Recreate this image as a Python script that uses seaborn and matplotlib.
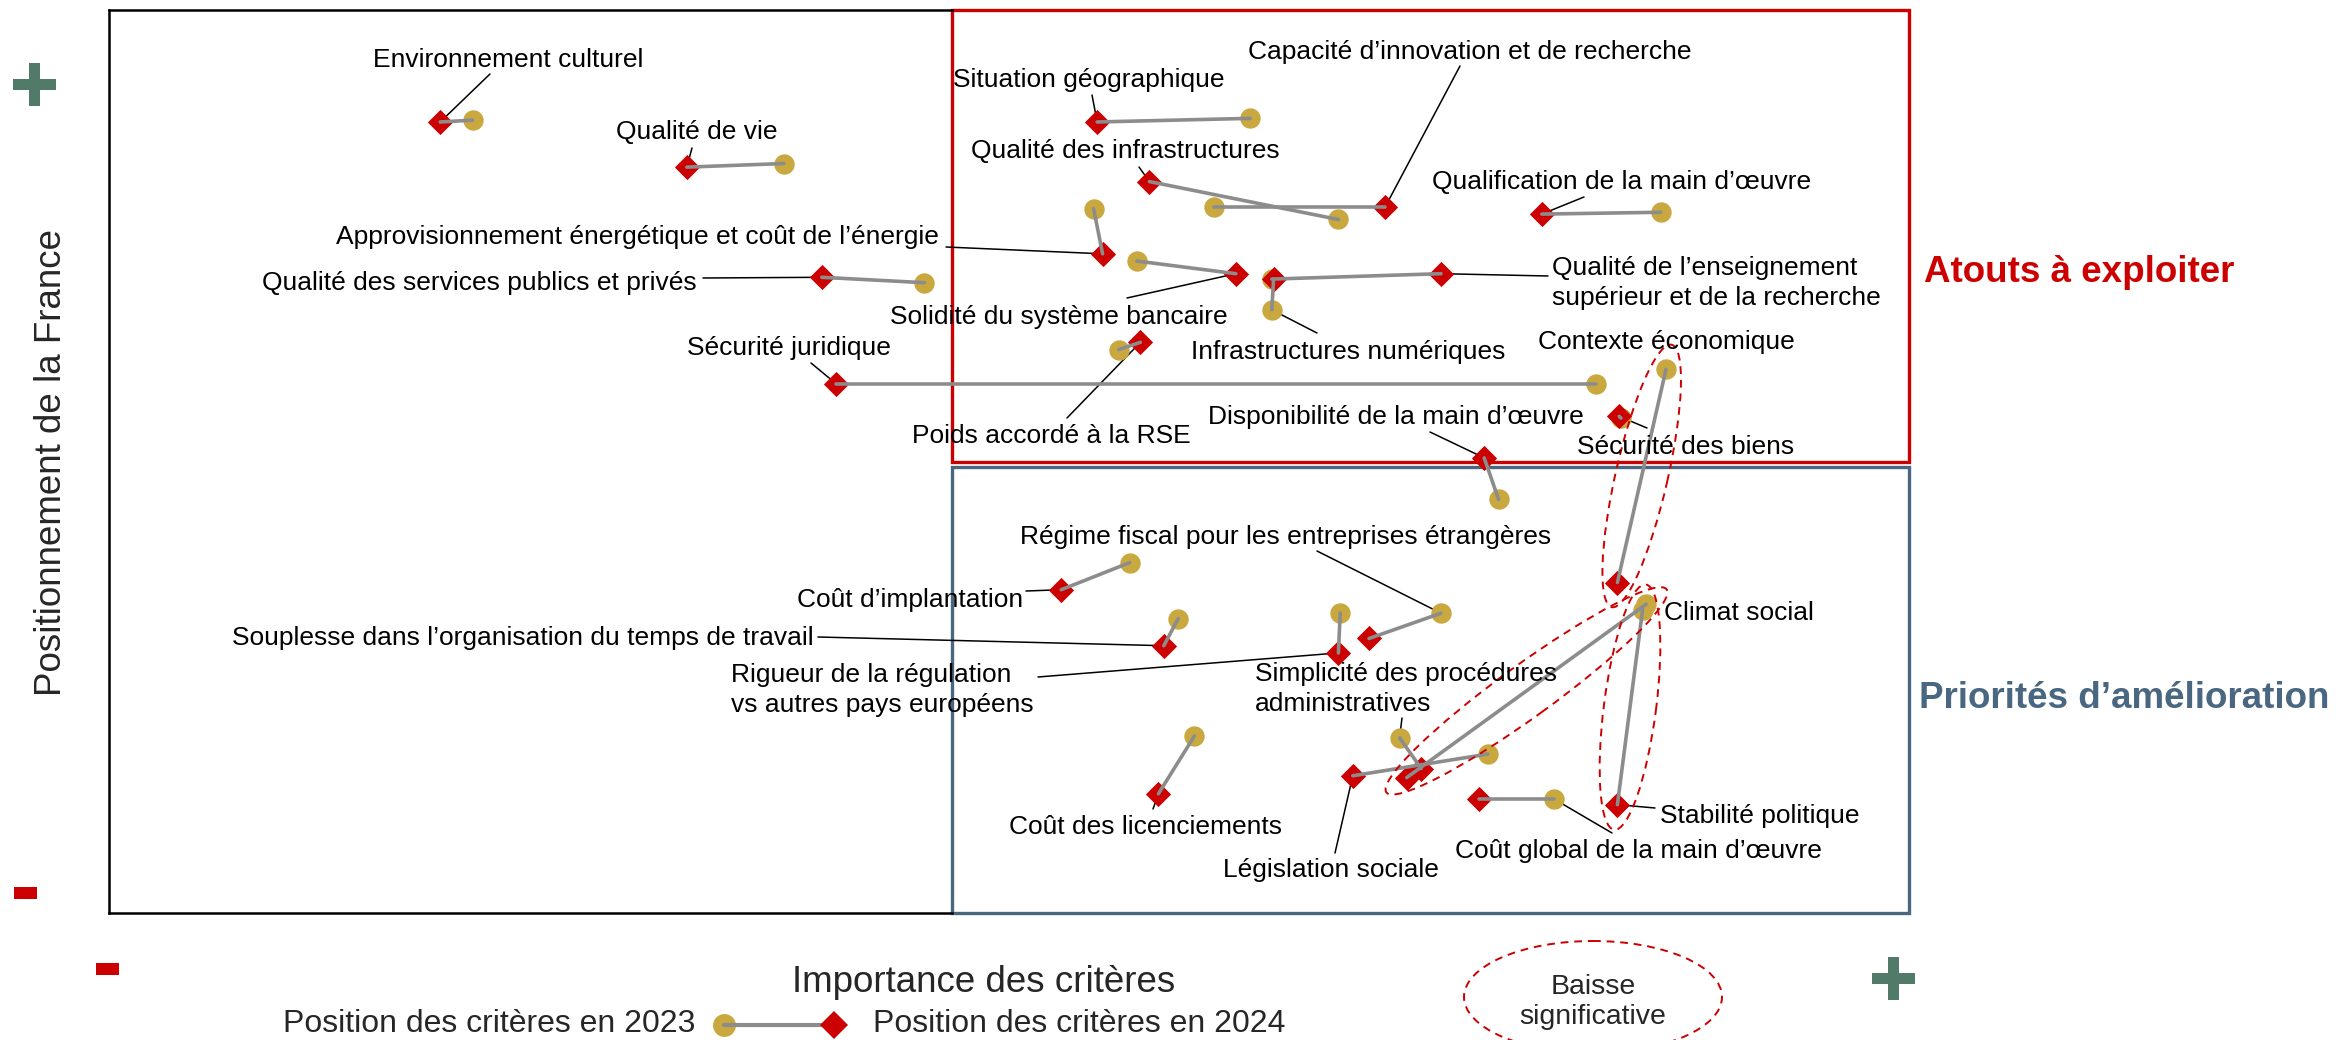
import math

import pandas as pd
import seaborn as sns
import matplotlib.pyplot as plt
from matplotlib.patches import Ellipse, Rectangle


CRITERES = [
    "Environnement culturel",
    "Qualité de vie",
    "Situation géographique",
    "Capacité d’innovation et de recherche",
    "Qualité des infrastructures",
    "Qualification de la main d’œuvre",
    "Approvisionnement énergétique et coût de l’énergie",
    "Qualité des services publics et privés",
    "Solidité du système bancaire",
    "Qualité de l’enseignement supérieur et de la recherche",
    "Infrastructures numériques",
    "Sécurité juridique",
    "Poids accordé à la RSE",
    "Contexte économique",
    "Sécurité des biens",
    "Disponibilité de la main d’œuvre",
    "Coût d’implantation",
    "Souplesse dans l’organisation du temps de travail",
    "Régime fiscal pour les entreprises étrangères",
    "Rigueur de la régulation vs autres pays européens",
    "Climat social",
    "Simplicité des procédures administratives",
    "Législation sociale",
    "Coût des licenciements",
    "Coût global de la main d’œuvre",
    "Stabilité politique",
]

# importance (x) / positionnement (y), 2023 et 2024
IMP_2023 = [20.2, 37.5, 63.4, 61.4, 68.3, 86.2, 54.7, 45.3, 57.1, 64.6, 64.6, 82.6, 56.1,
            86.5, 84.0, 77.2, 56.7, 59.4, 74.0, 68.4, 85.4, 71.7, 76.6, 60.3, 80.3, 85.2]
POS_2023 = [43.9, 41.5, 44.0, 39.1, 38.4, 38.8, 39.0, 34.9, 36.1, 35.1, 33.4, 29.3, 31.2,
            30.1, 27.4, 22.9, 19.4, 16.3, 16.6, 16.6, 17.1, 9.7, 8.8, 9.8, 6.3, 16.8]
IMP_2024 = [18.4, 32.1, 54.9, 70.9, 57.8, 79.6, 55.2, 39.6, 62.6, 74.0, 64.7, 40.4, 57.3,
            83.8, 83.9, 76.4, 52.9, 58.6, 70.0, 68.3, 72.1, 72.9, 69.1, 58.3, 76.1, 83.8]
POS_2024 = [43.8, 41.3, 43.8, 39.1, 40.5, 38.7, 36.5, 35.2, 35.4, 35.4, 35.1, 29.3, 31.6,
            18.3, 27.5, 25.2, 17.9, 14.8, 15.2, 14.4, 7.5, 8.0, 7.6, 6.6, 6.3, 6.0]

BAISSE_SIGNIFICATIVE = ["Contexte économique", "Climat social", "Stabilité politique"]

GOLD = "#C8A83F"
RED = "#CC0000"
GRAY = "#8C8C8C"
GREEN = "#527A68"
BLUE = "#4A6782"

W, H = 2339, 1040
AX_L, AX_R, AX_T, AX_B = 109, 1909, 10, 913
XMAX, YMAX = 100.0, 50.0

# label layout in image pixels: text x, text y, ha, leader start (or None), leader target year
LABELS = {
    "Environnement culturel": (508, 60, "center", (490, 74), 2024),
    "Qualité de vie": (697, 132, "center", (692, 148), 2024),
    "Situation géographique": (1089, 80, "center", (1092, 95), 2024),
    "Capacité d’innovation et de recherche": (1470, 52, "center", (1460, 66), 2024),
    "Qualité des infrastructures": (1125, 151, "center", (1139, 167), 2024),
    "Qualification de la main d’œuvre": (1622, 182, "center", (1584, 197), 2024),
    "Approvisionnement énergétique et coût de l’énergie": (939, 237, "right", (946, 247), 2024),
    "Qualité des services publics et privés": (697, 283, "right", (703, 278), 2024),
    "Solidité du système bancaire": (1228, 317, "right", (1127, 298), 2024),
    "Qualité de l’enseignement supérieur et de la recherche": (1552, 283, "left", (1548, 276), 2024),
    "Infrastructures numériques": (1348, 352, "center", (1317, 333), 2023),
    "Sécurité juridique": (789, 348, "center", (811, 363), 2024),
    "Poids accordé à la RSE": (1051, 436, "center", (1067, 418), 2024),
    "Contexte économique": (1666, 342, "center", None, 2023),
    "Sécurité des biens": (1686, 447, "center", (1647, 428), 2024),
    "Disponibilité de la main d’œuvre": (1396, 417, "center", (1430, 432), 2024),
    "Coût d’implantation": (1023, 600, "right", (1026, 591), 2024),
    "Souplesse dans l’organisation du temps de travail": (814, 638, "right", (818, 637), 2024),
    "Régime fiscal pour les entreprises étrangères": (1286, 537, "center", (1317, 551), 2023),
    "Rigueur de la régulation vs autres pays européens": (731, 690, "left", (1038, 677), 2024),
    "Climat social": (1664, 613, "left", None, 2023),
    "Simplicité des procédures administratives": (1255, 689, "left", (1402, 718), 2023),
    "Législation sociale": (1331, 870, "center", (1335, 853), 2024),
    "Coût des licenciements": (1146, 827, "center", (1153, 809), 2024),
    "Coût global de la main d’œuvre": (1638, 851, "center", (1612, 833), 2023),
    "Stabilité politique": (1660, 816, "left", (1655, 808), 2024),
}
LABEL_TEXT = {
    "Qualité de l’enseignement supérieur et de la recherche": "Qualité de l’enseignement\nsupérieur et de la recherche",
    "Rigueur de la régulation vs autres pays européens": "Rigueur de la régulation\nvs autres pays européens",
    "Simplicité des procédures administratives": "Simplicité des procédures\nadministratives",
}


def px_to_data(x, y):
    return ((x - AX_L) / (AX_R - AX_L) * XMAX, (AX_B - y) / (AX_B - AX_T) * YMAX)


def build_segments() -> pd.DataFrame:
    rows = []
    for i, name in enumerate(CRITERES):
        rows.append({"critere": name, "annee": 2023, "imp": IMP_2023[i], "pos": POS_2023[i]})
        rows.append({"critere": name, "annee": 2024, "imp": IMP_2024[i], "pos": POS_2024[i]})
    return pd.DataFrame(rows)


def main() -> None:
    sns.set_theme(style="white")
    plt.rcParams["font.family"] = ["Liberation Sans", "DejaVu Sans"]

    fig = plt.figure(figsize=(W / 100, H / 100), dpi=100)
    ax = fig.add_axes([AX_L / W, 1 - AX_B / H, (AX_R - AX_L) / W, (AX_B - AX_T) / H])
    ax.set_xlim(0, XMAX)
    ax.set_ylim(0, YMAX)

    seg = build_segments()

    # quadrant boxes
    qx, _ = px_to_data(952, 0)
    _, red_bottom = px_to_data(0, 462)
    _, blue_top = px_to_data(0, 467)
    ax.add_patch(Rectangle((qx, red_bottom), XMAX - qx, YMAX - red_bottom, fill=False,
                           ec=RED, lw=2.4, zorder=1.5, clip_on=False))
    ax.add_patch(Rectangle((qx, 0), XMAX - qx, blue_top, fill=False,
                           ec=BLUE, lw=2.4, zorder=1.5, clip_on=False))

    sns.scatterplot(x=IMP_2023, y=POS_2023, marker="o", s=215, color=GOLD,
                    linewidth=0, zorder=3, ax=ax, clip_on=False)
    sns.scatterplot(x=IMP_2024, y=POS_2024, marker="D", s=165, color=RED,
                    linewidth=0, zorder=3.5, ax=ax, clip_on=False)
    sns.lineplot(data=seg, x="imp", y="pos", units="critere", estimator=None, sort=False,
                 color=GRAY, lw=2.6, zorder=4, ax=ax, legend=False)

    # labels + leaders
    for i, name in enumerate(CRITERES):
        tx, ty, ha, lead, target = LABELS[name]
        dx, dy = px_to_data(tx, ty)
        ax.text(dx, dy, LABEL_TEXT.get(name, name), ha=ha, va="center", fontsize=19,
                color="black", linespacing=1.3, zorder=6)
        if lead is not None:
            sx, sy = px_to_data(*lead)
            px = IMP_2024[i] if target == 2024 else IMP_2023[i]
            py = POS_2024[i] if target == 2024 else POS_2023[i]
            ax.plot([sx, px], [sy, py], color="black", lw=1.1, zorder=2, clip_on=False)

    # significant drops
    for name in BAISSE_SIGNIFICATIVE:
        i = CRITERES.index(name)
        x0, y0, x1, y1 = IMP_2023[i], POS_2023[i], IMP_2024[i], POS_2024[i]
        length = math.hypot(x1 - x0, y1 - y0) + 2.8
        angle = math.degrees(math.atan2(y0 - y1, x0 - x1))
        ax.add_patch(Ellipse(((x0 + x1) / 2, (y0 + y1) / 2), length, 2.9, angle=angle,
                             fill=False, ec=RED, lw=1.4, ls=(0, (4, 3)), zorder=5))

    ax.set_xticks([])
    ax.set_yticks([])
    ax.set_xlabel("")
    ax.set_ylabel("")
    ax.spines["right"].set_visible(False)
    for side in ["left", "top", "bottom"]:
        ax.spines[side].set_color("black")
        ax.spines[side].set_linewidth(1.8)
    ax.spines["top"].set_bounds(0, qx)
    ax.spines["bottom"].set_bounds(0, qx)

    # overlay in pixel coordinates for the decorations around the chart
    ov = fig.add_axes([0, 0, 1, 1], zorder=10)
    ov.set_xlim(0, W)
    ov.set_ylim(H, 0)
    ov.axis("off")
    ov.patch.set_alpha(0)

    def plus(cx, cy):
        ov.add_patch(Rectangle((cx - 21.5, cy - 5.5), 43, 11, color=GREEN, lw=0))
        ov.add_patch(Rectangle((cx - 5.5, cy - 21.5), 11, 43, color=GREEN, lw=0))

    def minus(cx, cy):
        ov.add_patch(Rectangle((cx - 11.5, cy - 6), 23, 12, color=RED, lw=0))

    plus(34, 84.5)
    plus(1893, 978)
    minus(25, 893)
    minus(107, 969)

    ov.text(52, 462, "Positionnement de la France", rotation=90, ha="center", va="center",
            fontsize=26.5)
    ov.text(984, 983, "Importance des critères", ha="center", va="center", fontsize=26.5)
    ov.text(1924, 273, "Atouts à exploiter", ha="left", va="center", fontsize=26.5,
            fontweight="bold", color=RED)
    ov.text(1919, 698, "Priorités d’amélioration", ha="left", va="center", fontsize=26.5,
            fontweight="bold", color=BLUE)

    # legend
    ov.text(695, 1024, "Position des critères en 2023", ha="right", va="center", fontsize=23)
    ov.plot([724, 834], [1025, 1025], color=GRAY, lw=3, zorder=2)
    ov.plot([724], [1025], marker="o", ms=16.5, color=GOLD, mew=0, zorder=1)
    ov.plot([834], [1025], marker="D", ms=14, color=RED, mew=0, zorder=3)
    ov.text(873, 1024, "Position des critères en 2024", ha="left", va="center", fontsize=23)

    ov.add_patch(Ellipse((1593, 997), 258, 112, fill=False, ec=RED, lw=1.4,
                         ls=(0, (4, 3)), clip_on=False))
    ov.text(1593, 1002, "Baisse\nsignificative", ha="center", va="center", fontsize=20.5,
            linespacing=1.2)

    fig.savefig("out.png", dpi=100)
    plt.close(fig)


if __name__ == "__main__":
    main()
